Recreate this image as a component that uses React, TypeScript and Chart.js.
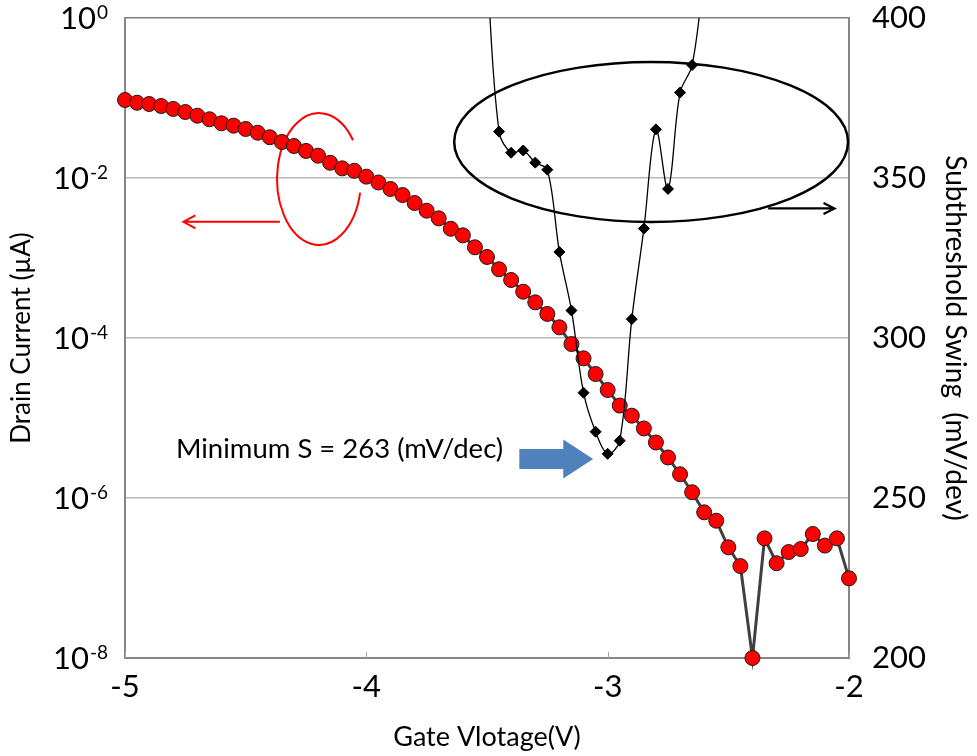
import React, { useEffect, useRef } from 'react';
import { Chart, registerables } from 'chart.js';

Chart.register(...registerables);

const FONT = "Lato, 'Open Sans', sans-serif";

// Gate voltage (V) for the drain-current sweep
const gateVoltage = [
  -5.0, -4.95, -4.9, -4.85, -4.8, -4.75, -4.7, -4.65, -4.6, -4.55,
  -4.5, -4.45, -4.4, -4.35, -4.3, -4.25, -4.2, -4.15, -4.1, -4.05,
  -4.0, -3.95, -3.9, -3.85, -3.8, -3.75, -3.7, -3.65, -3.6, -3.55,
  -3.5, -3.45, -3.4, -3.35, -3.3, -3.25, -3.2, -3.15, -3.1, -3.05,
  -3.0, -2.95, -2.9, -2.85, -2.8, -2.75, -2.7, -2.65, -2.6, -2.55,
  -2.5, -2.45, -2.4, -2.35, -2.3, -2.25, -2.2, -2.15, -2.1, -2.05, -2.0,
];

// Drain current (µA)
const drainCurrent = [
  0.0944, 0.0873, 0.0841, 0.0794, 0.0729, 0.0668, 0.0601, 0.0542, 0.0483, 0.0451,
  0.041, 0.0368, 0.0323, 0.0282, 0.0251, 0.0218, 0.019, 0.0155, 0.0132, 0.0123,
  0.0104, 0.00879, 0.00729, 0.00613, 0.00487, 0.0039, 0.00313, 0.00232, 0.00192, 0.00136,
  0.00103, 7.23e-4, 5.31e-4, 3.79e-4, 2.79e-4, 2.0e-4, 1.36e-4, 8.41e-5, 5.57e-5, 3.55e-5,
  2.24e-5, 1.43e-5, 1.07e-5, 7.4e-6, 4.94e-6, 3.21e-6, 1.98e-6, 1.18e-6, 6.62e-7, 5.2e-7,
  2.42e-7, 1.41e-7, 1.0e-8, 3.13e-7, 1.53e-7, 2.11e-7, 2.3e-7, 3.55e-7, 2.54e-7, 3.13e-7, 9.9e-8,
];

// Subthreshold swing (mV/dec) and its gate voltages
const swingVoltage = [
  -3.5, -3.45, -3.4, -3.35, -3.3, -3.25, -3.2, -3.15, -3.1, -3.05,
  -3.0, -2.95, -2.9, -2.85, -2.8, -2.75, -2.7, -2.65, -2.6,
];
const swingValues = [
  415, 364.5, 357.9, 358.6, 354.8, 352.6, 326.9, 308.6, 282.9, 270.7,
  263.8, 267.9, 305.9, 334.2, 365.2, 346.6, 376.7, 385.3, 414,
];

// Axis ticks
const xTicks = [-5, -4, -3, -2];
const leftTickValues = [1, 1e-2, 1e-4, 1e-6, 1e-8];
const leftTickExponents = ['0', '-2', '-4', '-6', '-8'];
const rightTicks = [200, 250, 300, 350, 400];

const annotationText = 'Minimum S = 263 (mV/dec)';

const noPad = (s: any) => {
  s.paddingTop = 0;
  s.paddingBottom = 0;
  s.paddingLeft = 0;
  s.paddingRight = 0;
};

const annotationsPlugin = {
  id: 'annotations',
  beforeDatasetsDraw(chart: any) {
    const { ctx, scales } = chart;
    const xs = scales.x;
    const y2 = scales.y2;
    const X = (v: number) => xs.getPixelForValue(v);
    const Y = (v: number) => y2.getPixelForValue(v);
    ctx.save();

    // Black ellipse around the swing data
    ctx.strokeStyle = '#000';
    ctx.lineWidth = 2.5;
    ctx.beginPath();
    const ecx = X(-2.82), ecy = Y(361.25);
    ctx.ellipse(ecx, ecy, X(-2.82 + 0.816) - ecx, Y(361.25 - 25) - ecy, 0, 0, Math.PI * 2);
    ctx.stroke();

    // Black arrow pointing right
    ctx.lineWidth = 2.2;
    const ax0 = X(-2.335), ax1 = X(-2.06), ay = Y(340.5);
    ctx.beginPath();
    ctx.moveTo(ax0, ay);
    ctx.lineTo(ax1, ay);
    ctx.moveTo(ax1 - 11, ay - 5.5);
    ctx.lineTo(ax1, ay);
    ctx.lineTo(ax1 - 11, ay + 5.5);
    ctx.stroke();

    // Red open ellipse
    ctx.strokeStyle = '#ff0000';
    ctx.lineWidth = 2;
    const rcx = X(-4.196), rcy = Y(349.7);
    ctx.beginPath();
    ctx.ellipse(rcx, rcy, X(-4.196 + 0.174) - rcx, Y(349.7 - 20.6) - rcy, 0, (12 * Math.PI) / 180, (324 * Math.PI) / 180);
    ctx.stroke();

    // Red arrow pointing left
    const rx0 = X(-4.358), rx1 = X(-4.758), ry = Y(336.3);
    ctx.beginPath();
    ctx.moveTo(rx0, ry);
    ctx.lineTo(rx1, ry);
    ctx.moveTo(rx1 + 12, ry - 6.5);
    ctx.lineTo(rx1, ry);
    ctx.lineTo(rx1 + 12, ry + 6.5);
    ctx.stroke();

    // Blue block arrow
    const bx0 = X(-3.366), bx1 = X(-3.184), bx2 = X(-3.06);
    const by = Y(262.2);
    const sh = Y(262.2 - 3.125) - by;
    const hh = Y(262.2 - 6.1) - by;
    ctx.fillStyle = '#4f81bd';
    ctx.beginPath();
    ctx.moveTo(bx0, by - sh);
    ctx.lineTo(bx1, by - sh);
    ctx.lineTo(bx1, by - hh);
    ctx.lineTo(bx2, by);
    ctx.lineTo(bx1, by + hh);
    ctx.lineTo(bx1, by + sh);
    ctx.lineTo(bx0, by + sh);
    ctx.closePath();
    ctx.fill();

    // Annotation text
    ctx.fillStyle = '#000';
    ctx.font = `27.5px ${FONT}`;
    ctx.textAlign = 'left';
    ctx.textBaseline = 'alphabetic';
    ctx.fillText(annotationText, X(-4.789), Y(262.4));

    ctx.restore();
  },
  afterDraw(chart: any) {
    const { ctx, scales, chartArea } = chart;
    const ys = scales.y;
    const xs = scales.x;
    ctx.save();
    // inside tick marks on x axis
    ctx.strokeStyle = '#a6a6a6';
    ctx.lineWidth = 1;
    xTicks.forEach((v) => {
      const px = Math.round(xs.getPixelForValue(v)) + 0.5;
      ctx.beginPath();
      ctx.moveTo(px, chartArea.bottom);
      ctx.lineTo(px, chartArea.bottom - 6);
      ctx.stroke();
    });
    // left log tick labels with superscripts
    ctx.fillStyle = '#000';
    ctx.textBaseline = 'alphabetic';
    const right = chartArea.left - 17;
    leftTickValues.forEach((v, i) => {
      const py = ys.getPixelForValue(v);
      const exp = leftTickExponents[i];
      ctx.font = `19px ${FONT}`;
      const ws = ctx.measureText(exp).width;
      ctx.textAlign = 'left';
      ctx.fillText(exp, right - ws, py + 1);
      ctx.font = `31px ${FONT}`;
      ctx.textAlign = 'right';
      ctx.fillText('10', right - ws - 1, py + 11);
    });
    ctx.restore();
  },
};

export default function App() {
  const ref = useRef<HTMLCanvasElement | null>(null);

  useEffect(() => {
    if (!ref.current) return;
    const chart = new Chart(ref.current, {
      type: 'line',
      data: {
        datasets: [
          {
            label: 'Subthreshold Swing',
            data: swingVoltage.map((v, i) => ({ x: v, y: swingValues[i] })),
            yAxisID: 'y2',
            borderColor: '#000',
            borderWidth: 1.3,
            pointStyle: 'rectRot',
            pointRadius: 5.5,
            pointBackgroundColor: '#000',
            pointBorderColor: '#000',
            pointBorderWidth: 1,
            tension: 0.35,
            clip: { left: false, top: 0, right: false, bottom: false },
          } as any,
          {
            label: 'Drain Current',
            data: gateVoltage.map((v, i) => ({ x: v, y: drainCurrent[i] })),
            yAxisID: 'y',
            borderColor: '#404040',
            borderWidth: 3,
            pointRadius: 7.5,
            pointBackgroundColor: '#ff0000',
            pointBorderColor: '#1a1a1a',
            pointBorderWidth: 1,
            tension: 0,
            clip: false,
          } as any,
        ],
      },
      options: {
        responsive: false,
        animation: false,
        layout: { padding: { top: 18, left: 0, right: 0, bottom: 0 } },
        plugins: { legend: { display: false }, tooltip: { enabled: false } },
        scales: {
          x: {
            type: 'linear',
            min: -5,
            max: -2,
            afterBuildTicks: (s: any) => {
              s.ticks = xTicks.map((v) => ({ value: v }));
            },
            afterFit: (s: any) => {
              s.height = 98;
              noPad(s);
            },
            ticks: { font: { family: FONT, size: 31 }, color: '#000', padding: 10 },
            grid: { display: false, drawTicks: false },
            border: { display: true, color: '#868686', width: 2 },
            title: {
              display: true,
              text: 'Gate Vlotage(V)',
              font: { family: FONT, size: 27 },
              color: '#000',
              padding: { top: 0, bottom: 3 },
            },
          },
          y: {
            type: 'logarithmic',
            position: 'left',
            min: 1e-8,
            max: 1,
            afterBuildTicks: (s: any) => {
              s.ticks = leftTickValues.map((v) => ({ value: v }));
            },
            afterFit: (s: any) => {
              s.width = 125;
              noPad(s);
            },
            ticks: { display: false },
            grid: {
              drawTicks: false,
              color: (c: any) => (c.tick && c.tick.value === 1 ? '#7f7f7f' : '#b8b8b8'),
              lineWidth: 1.5,
            },
            border: { display: true, color: '#868686', width: 2 },
            title: {
              display: true,
              text: 'Drain Current (µA)',
              font: { family: FONT, size: 26 },
              color: '#000',
              padding: { top: 6, bottom: 0 },
            },
          },
          y2: {
            type: 'linear',
            position: 'right',
            min: 200,
            max: 400,
            afterBuildTicks: (s: any) => {
              s.ticks = rightTicks.map((v) => ({ value: v }));
            },
            afterFit: (s: any) => {
              s.width = 128;
              noPad(s);
            },
            ticks: { font: { family: FONT, size: 31 }, color: '#000', padding: 23 },
            grid: { display: false, drawTicks: false },
            border: { display: true, color: '#868686', width: 2 },
            title: {
              display: true,
              text: 'Subthreshold Swing  (mV/dev)',
              font: { family: FONT, size: 28 },
              color: '#000',
              padding: { top: 5, bottom: 0 },
            },
          },
        },
      } as any,
      plugins: [annotationsPlugin],
    });
    return () => chart.destroy();
  }, []);

  return (
    <div style={{ position: 'fixed', left: 0, top: 0, width: 977, height: 756, background: '#fff' }}>
      <canvas ref={ref} width={977} height={756} style={{ width: 977, height: 756 }} />
    </div>
  );
}
